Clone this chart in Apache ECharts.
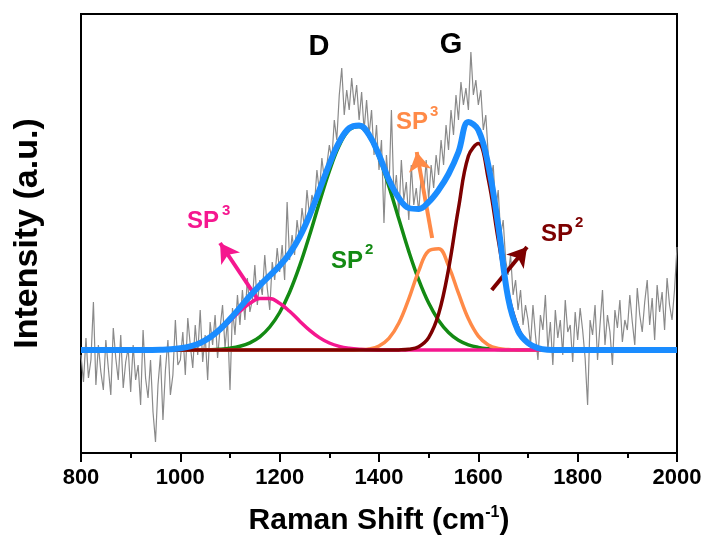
<!DOCTYPE html>
<html>
<head>
<meta charset="utf-8">
<script src="https://cdn.jsdelivr.net/npm/echarts@6/dist/echarts.min.js"></script>
<style>
html, body { margin: 0; padding: 0; background: #fff; }
#chart { width: 705px; height: 545px; }
</style>
</head>
<body>
<div id="chart"></div>
<script>
// 测量光谱 (800 - 2000, 每 5 cm-1 一个点)
var rawStart = 800, rawStep = 5;
var rawIntensity = [
    -0.05, -0.32, 0.12, -0.28, -0.10, 0.48, -0.35, 0.05, -0.22, -0.40, 0.10, -0.18, -0.45, 0.22, -0.08, -0.30, 0.15, -0.38, -0.12, 0.02,
    -0.42, 0.05, -0.30, -0.15, -0.55, 0.20, -0.28, -0.48, -0.10, -0.62, -0.92, -0.35, -0.05, -0.70, -0.20, 0.10, -0.45, -0.25, 0.30, -0.15,
    -0.10, 0.18, -0.25, 0.32, 0.05, -0.18, 0.25, -0.05, 0.40, -0.12, 0.15, -0.30, 0.28, 0.05, 0.35, -0.08, 0.22, 0.45, 0.02, 0.30,
    -0.40, 0.42, 0.15, 0.55, 0.25, 0.60, 0.30, 0.72, 0.38, 0.50, 0.85, 0.45, 0.70, 0.55, 0.95, 0.62, 0.40, 0.88, 0.70, 1.02,
    0.78, 1.05, 0.70, 1.48, 0.90, 1.15, 0.95, 1.30, 1.10, 1.42, 1.22, 1.60, 1.35, 1.55, 1.45, 1.80, 1.58, 1.92, 1.70, 1.85,
    2.05, 1.90, 2.30, 2.10, 2.55, 2.82, 2.35, 2.60, 2.40, 2.72, 2.45, 2.65, 2.30, 2.58, 2.20, 2.50, 2.15, 2.40, 1.95, 2.25,
    1.80, 2.10, 1.27, 1.95, 1.60, 2.40, 1.55, 1.75, 1.35, 1.90, 1.50, 1.68, 1.30, 1.85, 1.45, 1.62, 1.38, 1.75, 1.55, 1.90,
    1.50, 1.85, 1.62, 1.95, 1.75, 2.10, 1.85, 2.25, 2.00, 2.40, 2.15, 2.55, 2.30, 2.68, 2.45, 2.62, 2.40, 2.98, 2.55, 2.70,
    2.45, 2.60, 2.20, 2.35, 1.95, 1.70, 1.85, 1.40, 1.60, 1.15, 1.30, 0.90, 0.75, 0.95, 0.55, 0.70, 0.40, 0.60, 0.25, 0.45,
    0.30, 0.05, 0.45, 0.15, -0.10, 0.35, 0.20, 0.55, 0.00, 0.28, -0.15, 0.40, 0.12, 0.30, -0.05, 0.50, 0.18, 0.25, -0.12, 0.38,
    0.10, 0.42, 0.20, -0.08, -0.55, 0.30, 0.15, 0.45, -0.10, 0.25, 0.60, 0.05, 0.35, 0.18, -0.15, 0.40, 0.22, 0.50, 0.08, 0.30,
    0.20, 0.55, 0.28, 0.05, 0.62, 0.35, 0.18, 0.48, 0.70, 0.25, 0.52, 0.10, 0.65, 0.38, 0.58, 0.20, 0.72, 0.45, 0.30, 0.60,
    1.03
];

// 拟合峰 (800 - 2000, 每 20 cm-1 一个点)
var fitStart = 800, fitStep = 20;
var fitSp3D = [
    0, 0, 0, 0, 0, 0, 0,
    0.001, 0.003, 0.007, 0.017, 0.036, 0.070, 0.124, 0.199, 0.291, 0.387, 0.467, 0.514,
    0.514, 0.467, 0.387, 0.291, 0.199, 0.124, 0.070, 0.036, 0.017, 0.007, 0.003, 0.001,
    0, 0, 0, 0, 0, 0, 0, 0, 0, 0, 0, 0, 0, 0, 0, 0, 0, 0, 0, 0, 0, 0, 0, 0, 0, 0, 0, 0, 0, 0
];
var fitSp2D = [
    0, 0, 0, 0, 0, 0, 0, 0, 0, 0,
    0, 0.001, 0.001, 0.003, 0.008, 0.018, 0.037, 0.072, 0.132, 0.230, 0.375, 0.578, 0.838, 1.145, 1.475, 1.789, 2.045, 2.202,
    2.236, 2.138, 1.927, 1.636, 1.309, 0.986, 0.701, 0.469, 0.296, 0.176, 0.098, 0.052, 0.026, 0.012, 0.005, 0.002, 0.001, 0,
    0, 0, 0, 0, 0, 0, 0, 0, 0, 0, 0, 0, 0, 0, 0
];
var fitSp3G = [
    0, 0, 0, 0, 0, 0, 0, 0, 0, 0, 0, 0, 0, 0, 0, 0, 0, 0, 0, 0, 0, 0, 0, 0, 0, 0, 0,
    0, 0.003, 0.011, 0.040, 0.116, 0.270, 0.512, 0.791, 0.992, 1.013, 0.841, 0.568, 0.312, 0.139, 0.051, 0.015, 0.004, 0.001,
    0, 0, 0, 0, 0, 0, 0, 0, 0, 0, 0, 0, 0, 0, 0, 0
];
var fitSp2G = [
    0, 0, 0, 0, 0, 0, 0, 0, 0, 0, 0, 0, 0, 0, 0, 0, 0, 0, 0, 0, 0, 0, 0, 0, 0, 0, 0, 0, 0, 0, 0, 0,
    0.001, 0.007, 0.033, 0.124, 0.359, 0.808, 1.418, 1.939, 2.064, 1.711, 1.105, 0.555, 0.218, 0.066, 0.016, 0.003,
    0, 0, 0, 0, 0, 0, 0, 0, 0, 0, 0, 0, 0
];
var fitSum = [
    0, 0, 0, 0, 0, 0, 0,
    0.001, 0.003, 0.007, 0.017, 0.037, 0.071, 0.127, 0.207, 0.309, 0.424, 0.539, 0.646, 0.744, 0.842, 0.965, 1.129, 1.344,
    1.599, 1.859, 2.081, 2.219, 2.246, 2.152, 1.950, 1.700, 1.520, 1.420, 1.410, 1.480, 1.600, 1.760, 1.980, 2.280, 2.200,
    1.850, 1.250, 0.520, 0.190, 0.070, 0.020, 0.003,
    0, 0, 0, 0, 0, 0, 0, 0, 0, 0, 0, 0, 0
];

function toPairs(start, step, arr) {
    return arr.map(function (v, i) { return [start + i * step, v]; });
}

var font = "'Liberation Sans', Arial, sans-serif";
var pink = '#f5178f', green = '#138a13', orange = '#ff8a47', darkRed = '#7d0000', blue = '#1a8cff';

function arrow(color, from, to) {
    return {
        silent: true,
        symbol: ['none', 'arrow'],
        symbolSize: [17, 19],
        label: { show: false },
        lineStyle: { color: color, width: 4, type: 'solid' },
        animation: false,
        data: [[{ coord: from }, { coord: to }]]
    };
}

function fitSeries(name, arr, color, width, z, mark) {
    var s = {
        name: name,
        type: 'line',
        data: toPairs(fitStart, fitStep, arr),
        showSymbol: false,
        smooth: 0.4,
        lineStyle: { color: color, width: width },
        z: z
    };
    if (mark) s.markLine = mark;
    return s;
}

var chart = echarts.init(document.getElementById('chart'));
var option = {
    animation: false,
    backgroundColor: '#fff',
    grid: {
        left: 81, right: 28, top: 14, bottom: 92,
        show: true, borderColor: '#000', borderWidth: 2
    },
    xAxis: {
        type: 'value',
        min: 800, max: 2000, interval: 200,
        name: 'Raman Shift (cm{sup|-1})',
        nameLocation: 'middle',
        nameGap: 52,
        nameTextStyle: {
            fontFamily: font, fontSize: 30, fontWeight: 'bold', color: '#000',
            rich: { sup: { fontFamily: font, fontSize: 16, fontWeight: 'bold', color: '#000', padding: [0, 0, 16, 0] } }
        },
        axisLine: { onZero: false, lineStyle: { color: '#000', width: 2 } },
        axisTick: { length: 9, lineStyle: { color: '#000', width: 2 } },
        minorTick: { show: true, splitNumber: 2, length: 5, lineStyle: { color: '#000', width: 2 } },
        axisLabel: {
            fontFamily: font, fontSize: 22, fontWeight: 'bold', color: '#000', margin: 14,
            formatter: function (v) { return String(v); }
        },
        splitLine: { show: false }
    },
    yAxis: {
        type: 'value',
        min: -1.03, max: 3.36,
        name: 'Intensity (a.u.)',
        nameLocation: 'middle',
        nameGap: 36,
        nameTextStyle: { fontFamily: font, fontSize: 34, fontWeight: 'bold', color: '#000' },
        axisLine: { show: true, onZero: false, lineStyle: { color: '#000', width: 2 } },
        axisTick: { show: false },
        axisLabel: { show: false },
        splitLine: { show: false }
    },
    series: [
        {
            name: 'raw',
            type: 'line',
            data: toPairs(rawStart, rawStep, rawIntensity),
            showSymbol: false,
            lineStyle: { color: '#8a8a8a', width: 1.2 },
            z: 1
        },
        fitSeries('SP2 D', fitSp2D, green, 3.5, 2),
        fitSeries('SP3 G', fitSp3G, orange, 3.5, 3, arrow(orange, [1507, 1.12], [1476, 1.98])),
        fitSeries('SP3 D', fitSp3D, pink, 3.5, 4, arrow(pink, [1154, 0.52], [1080, 1.07])),
        fitSeries('SP2 G', fitSp2G, darkRed, 3.5, 5, arrow(darkRed, [1627, 0.60], [1698, 1.03])),
        fitSeries('sum', fitSum, blue, 6, 6)
    ],
    graphic: [
        { type: 'text', x: 319, y: 47, style: { text: 'D', font: 'bold 29px ' + font, fill: '#000', align: 'center', verticalAlign: 'middle' } },
        { type: 'text', x: 451, y: 45, style: { text: 'G', font: 'bold 29px ' + font, fill: '#000', align: 'center', verticalAlign: 'middle' } },

        { type: 'text', x: 187, y: 221, style: { text: 'SP', font: 'bold 24px ' + font, fill: pink, verticalAlign: 'middle' } },
        { type: 'text', x: 222, y: 211, style: { text: '3', font: 'bold 15px ' + font, fill: pink, verticalAlign: 'middle' } },

        { type: 'text', x: 331, y: 261, style: { text: 'SP', font: 'bold 24px ' + font, fill: green, verticalAlign: 'middle' } },
        { type: 'text', x: 365, y: 250, style: { text: '2', font: 'bold 15px ' + font, fill: green, verticalAlign: 'middle' } },

        { type: 'text', x: 396, y: 122, style: { text: 'SP', font: 'bold 24px ' + font, fill: orange, verticalAlign: 'middle' } },
        { type: 'text', x: 430, y: 112, style: { text: '3', font: 'bold 15px ' + font, fill: orange, verticalAlign: 'middle' } },

        { type: 'text', x: 541, y: 234, style: { text: 'SP', font: 'bold 24px ' + font, fill: darkRed, verticalAlign: 'middle' } },
        { type: 'text', x: 575, y: 223, style: { text: '2', font: 'bold 15px ' + font, fill: darkRed, verticalAlign: 'middle' } }
    ]
};
chart.setOption(option);
</script>
</body>
</html>
